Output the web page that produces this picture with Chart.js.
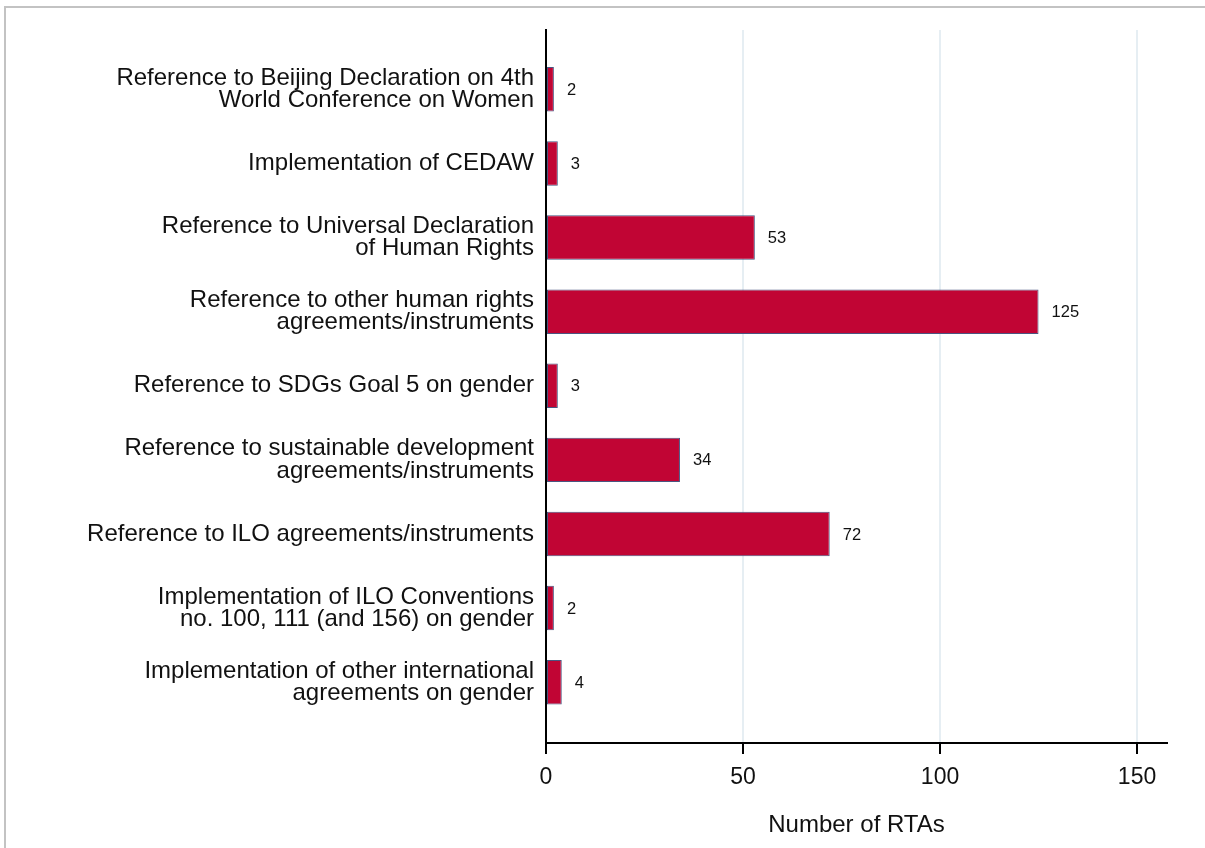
<!DOCTYPE html>
<html>
<head>
<meta charset="utf-8">
<script src="https://cdn.jsdelivr.net/npm/chart.js@4"></script>
<style>
  body { margin: 0; background: #fff; }
  #wrap { position: relative; width: 1205px; height: 848px; }
  #frame { position: absolute; left: 4px; top: 6px; right: 0; bottom: 0;
           border-top: 2px solid #c3c3c3; border-left: 2px solid #c3c3c3; pointer-events: none; }
  canvas { position: absolute; left: 0; top: 0; }
</style>
</head>
<body>
<div id="wrap">
  <div id="frame"></div>
  <canvas id="grafico" width="1205" height="848"></canvas>
</div>
<script>
// categorias (de cima para baixo)
const categories = [
    ['Reference to Beijing Declaration on 4th', 'World Conference on Women'],
    'Implementation of CEDAW',
    ['Reference to Universal Declaration', 'of Human Rights'],
    ['Reference to other human rights', 'agreements/instruments'],
    'Reference to SDGs Goal 5 on gender',
    ['Reference to sustainable development', 'agreements/instruments'],
    'Reference to ILO agreements/instruments',
    ['Implementation of ILO Conventions', 'no. 100, 111 (and 156) on gender'],
    ['Implementation of other international', 'agreements on gender']
];
const values = [2, 3, 53, 125, 3, 34, 72, 2, 4];
const xTicks = [0, 50, 100, 150];
const xTitle = 'Number of RTAs';

const fonte = "'Liberation Sans', Arial, sans-serif";

// rótulos com o valor ao lado de cada barra
const rotulosValor = {
    id: 'rotulosValor',
    afterDatasetsDraw(chart) {
        const ctx = chart.ctx;
        const meta = chart.getDatasetMeta(0);
        ctx.save();
        ctx.font = '16.5px ' + fonte;
        ctx.fillStyle = '#111';
        ctx.textAlign = 'left';
        ctx.textBaseline = 'middle';
        meta.data.forEach((bar, i) => {
            ctx.fillText(String(values[i]), bar.x + 13, bar.y + 1);
        });
        ctx.restore();
    }
};

const ctx = document.getElementById('grafico').getContext('2d');
new Chart(ctx, {
    type: 'bar',
    data: {
        datasets: [{
            data: values.map((v, i) => ({ x: v, y: i })),
            backgroundColor: '#c10534',
            borderColor: '#4a5580',
            borderWidth: 1,
            borderSkipped: false,
            barPercentage: 0.6,
            categoryPercentage: 1
        }]
    },
    options: {
        indexAxis: 'y',
        responsive: false,
        animation: false,
        layout: { padding: { left: 0, top: 30, right: 38, bottom: 0 } },
        plugins: {
            legend: { display: false },
            tooltip: { enabled: false }
        },
        scales: {
            y: {
                type: 'linear',
                reverse: true,
                offset: false,
                min: -0.8,
                max: 8.82,
                afterBuildTicks: (scale) => {
                    scale.ticks = categories.map((c, i) => ({ value: i }));
                },
                afterFit: (scale) => { scale.width = 546; scale.paddingTop = 0; scale.paddingBottom = 0; },
                grid: { offset: false, drawOnChartArea: false, drawTicks: false },
                border: { color: '#000', width: 2 },
                ticks: {
                    autoSkip: false,
                    padding: 12,
                    color: '#111',
                    font: { family: fonte, size: 24, lineHeight: 0.92 },
                    callback: (v) => categories[v]
                }
            },
            x: {
                type: 'linear',
                min: 0,
                max: 157.6,
                afterBuildTicks: (scale) => {
                    scale.ticks = xTicks.map(v => ({ value: v }));
                },
                afterFit: (scale) => { scale.height = 105; },
                grid: {
                    color: (c) => (c.tick && c.tick.value === 0) ? 'rgba(0,0,0,0)' : '#e6eef3',
                    lineWidth: 2,
                    tickColor: '#000',
                    tickWidth: 2,
                    tickLength: 11
                },
                border: { color: '#000', width: 2 },
                ticks: {
                    padding: 10,
                    color: '#111',
                    font: { family: fonte, size: 23 }
                },
                title: {
                    display: true,
                    text: xTitle,
                    color: '#111',
                    font: { family: fonte, size: 24 },
                    padding: { top: 0, bottom: 8 }
                }
            }
        }
    },
    plugins: [rotulosValor]
});
</script>
</body>
</html>
